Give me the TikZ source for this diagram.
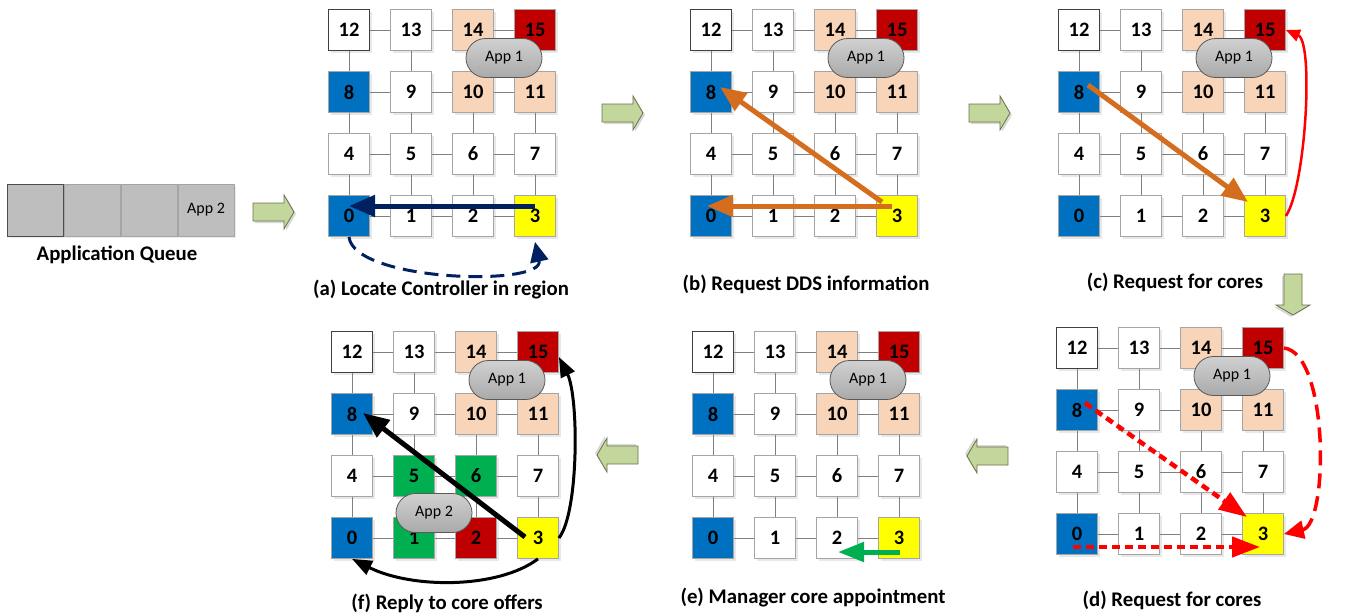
\documentclass[tikz,border=0pt]{standalone}
\usepackage{fontspec}
\setmainfont{Carlito}
\usetikzlibrary{arrows.meta,shapes.misc,shadows}
\pgfdeclarelayer{paper}
\pgfdeclarelayer{background}
\pgfsetlayers{paper,background,main}
\definecolor{cblue}{RGB}{0,112,192}
\definecolor{cred}{RGB}{192,0,0}
\definecolor{cpeach}{RGB}{248,213,184}
\definecolor{cyel}{RGB}{255,255,0}
\definecolor{cgreen}{RGB}{0,176,80}
\definecolor{navy}{RGB}{0,32,96}
\definecolor{corange}{RGB}{212,110,30}
\definecolor{bright}{RGB}{255,0,0}
\definecolor{boxedge}{RGB}{165,165,165}
\definecolor{arrfill}{RGB}{195,214,155}
\definecolor{arredge}{RGB}{105,115,80}
\definecolor{gtop}{RGB}{208,208,208}
\definecolor{gbot}{RGB}{170,170,170}
\definecolor{qgray}{RGB}{190,190,190}
\tikzset{
  core/.style={rectangle, minimum size=41pt, inner sep=0pt, draw=boxedge, line width=0.8pt,
    fill=white, font=\fontsize{20.5}{20.5}\selectfont\bfseries,
    drop shadow={opacity=0.18, shadow xshift=2pt, shadow yshift=-2pt}},
  k0/.style={fill=cblue}, k8/.style={fill=cblue}, k3/.style={fill=cyel},
  k15/.style={fill=cred}, k14/.style={fill=cpeach}, k10/.style={fill=cpeach},
  k11/.style={fill=cpeach}, k12/.style={draw=black!75},
  fk5/.style={fill=cgreen}, fk6/.style={fill=cgreen}, fk1/.style={fill=cgreen}, fk2/.style={fill=cred},
  link/.style={draw=gray, line width=0.9pt},
  app/.style={rounded rectangle, minimum width=76pt, minimum height=39pt, inner sep=0pt,
    draw=black!65, line width=0.8pt, top color=gtop, bottom color=gbot,
    font=\fontsize{16}{16}\selectfont},
  qbox/.style={rectangle, minimum width=56pt, minimum height=52pt, inner sep=0pt,
    draw=boxedge, line width=0.8pt, fill=qgray, font=\fontsize{16}{16}\selectfont,
    drop shadow={opacity=0.15, shadow xshift=2pt, shadow yshift=-2pt}},
  caption/.style={font=\fontsize{20.8}{20.8}\selectfont\bfseries},
  flowpath/.style={draw=arredge, fill=arrfill, line width=0.8pt, line join=miter},
  flowshadow/.style={fill=black, opacity=0.15},
  thickarr/.style={line width=5pt, -{Triangle[length=26pt,width=21pt]}},
}
\newcommand\meshgrid[3]{%
  \foreach \i in {0,...,15}{%
    \pgfmathtruncatemacro\cc{mod(\i,4)}%
    \pgfmathtruncatemacro\rr{div(\i,4)}%
    \node[core, k\i/.try, #1k\i/.try] (#1\i) at ({#2+62*\cc},{#3-62*\rr}) {\i};
  }%
  \begin{pgfonlayer}{background}
    \foreach \i in {0,1,2,4,5,6,8,9,10,12,13,14}{%
      \pgfmathtruncatemacro\j{\i+1}\draw[link] (#1\i.center) -- (#1\j.center);}
    \foreach \i in {0,...,11}{%
      \pgfmathtruncatemacro\j{\i+4}\draw[link] (#1\i.center) -- (#1\j.center);}
  \end{pgfonlayer}
}
% block arrow: centre x, centre y, rotation (0 = right)
\newcommand\blockarrow[3]{%
  \begin{scope}[shift={(#1,#2)}, rotate=#3]
    \fill[flowshadow] (-18,-7) -- (13,-7) -- (13,-15) -- (23,2) -- (13,19) -- (13,11) -- (-18,11) -- cycle;
    \draw[flowpath] (-20,-9) -- (11,-9) -- (11,-17) -- (21,0) -- (11,17) -- (11,9) -- (-20,9) -- cycle;
  \end{scope}
}
\begin{document}
\begin{tikzpicture}[x=1pt,y=-1pt]
\begin{pgfonlayer}{paper}
\fill[white] (0,0) rectangle (1350,616);
\end{pgfonlayer}
\useasboundingbox (0,0) rectangle (1350,616);

% application queue
\node[qbox, draw=black!70] (qa) at (35,210) {};
\node[qbox] (qb) at (92,210) {};
\node[qbox] (qc) at (149,210) {};
\node[qbox] (qd) at (206,210) {App 2};
\node[caption] (qlab) at (117,255) {Application Queue};

% block arrows between stages
\blockarrow{273}{212}{0}
\blockarrow{622}{113}{0}
\blockarrow{989}{113}{0}
\blockarrow{1293}{294}{-90}
\blockarrow{988}{456}{180}
\blockarrow{618}{455}{180}

% (a)
\meshgrid{a}{349}{216}
\node[app] (aapp) at (504,58) {App 1};
\draw[navy, thickarr] ([yshift=10pt]a3.center) -- ([yshift=10pt]a0.center);
\draw[navy, line width=3pt, dash pattern=on 14pt off 8pt, -{Triangle[length=20pt,width=18pt]}]
  (a0.south) .. controls +(5,45) and +(10,45) .. ([yshift=-5pt]a3.south);
\node[caption] (capa) at (441,290) {(a) Locate Controller in region};

% (b)
\meshgrid{b}{711}{216}
\node[app] (bapp) at (866,58) {App 1};
\draw[corange, thickarr] ([xshift=-15pt,yshift=14pt]b3.center) -- ([xshift=9pt,yshift=5pt]b8.center);
\draw[corange, thickarr] ([xshift=-5pt,yshift=10pt]b3.center) -- ([xshift=-4pt,yshift=10pt]b0.center);
\node[caption] (capb) at (806,284) {(b) Request DDS information};

% (c)
\meshgrid{c}{1079}{216}
\node[app] (capp) at (1234,58) {App 1};
\draw[corange, thickarr] ([xshift=9pt,yshift=7pt]c8.center) -- ([xshift=-17pt,yshift=14pt]c3.center);
\draw[bright, line width=2.5pt, -{Triangle[length=14pt,width=12pt]}]
  (c3.east) .. controls +(20,-30) and +(28,12) .. (c15.east);
\node[caption] (capc) at (1175,282) {(c) Request for cores};

% (d)
\meshgrid{d}{1077}{534}
\node[app] (dapp) at (1232,376) {App 1};
\draw[bright, line width=4.5pt, dash pattern=on 8pt off 5pt, -{Triangle[length=28pt,width=20pt]}]
  ([xshift=8pt,yshift=7pt]d8.center) -- ([xshift=-16pt,yshift=17pt]d3.center);
\draw[bright, line width=4.5pt, dash pattern=on 8pt off 5pt, -{Triangle[length=28pt,width=20pt]}]
  ([xshift=-4pt,yshift=-13pt]d0.center) -- ([xshift=-3pt,yshift=-13pt]d3.center);
\draw[bright, line width=3.5pt, dash pattern=on 15pt off 8pt, -{Triangle[length=20pt,width=18pt]}]
  (d15.east) .. controls +(45,5) and +(45,-10) .. (d3.east);
\node[caption] (capd) at (1172,600) {(d) Request for cores};

% (e)
\meshgrid{e}{713}{538}
\node[app] (eapp) at (868,380) {App 1};
\draw[cgreen, line width=5pt, -{Triangle[length=26pt,width=19pt]}]
  ([xshift=1pt,yshift=-14pt]e3.center) -- ([xshift=1pt,yshift=-14pt]e2.center);
\node[caption] (cape) at (813,598) {(e) Manager core appointment};

% (f)
\meshgrid{f}{352}{538}
\node[app] (fapp) at (507,380) {App 1};
\node[app] (fapp2) at (434,513) {App 2};
\draw[black, thickarr] ([xshift=-13pt,yshift=1pt]f3.center) -- ([xshift=11pt,yshift=1pt]f8.center);
\draw[black, line width=3pt, -{Triangle[length=20pt,width=15pt]}]
  (f3.east) .. controls +(20,-25) and +(20,40) .. ([yshift=-5pt]f15.east);
\draw[black, line width=3pt, -{Triangle[length=20pt,width=15pt]}]
  (f3.south) .. controls +(-40,30) and +(60,30) .. (f0.south);
\node[caption] (capf) at (447,603) {(f) Reply to core offers};
\end{tikzpicture}
\end{document}
